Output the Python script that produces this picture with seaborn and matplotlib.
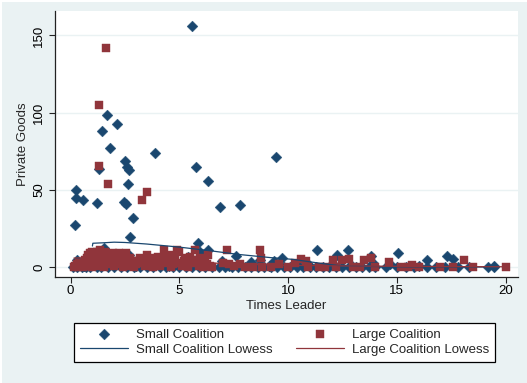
import matplotlib
matplotlib.use("Agg")
import matplotlib.pyplot as plt
import seaborn as sns
import pandas as pd
from matplotlib.patches import Rectangle

# ---------------- data ----------------
small_x = [5.59, 1.66, 2.12, 1.42, 1.82, 3.87, 9.43, 2.50, 1.30, 2.60, 2.70, 5.77, 6.32, 2.64,
           0.24, 0.24, 0.57, 1.19, 2.45, 2.55, 6.86, 7.79, 2.86, 0.21, 2.71, 1.52, 5.85, 6.30,
           1.5, 1.3, 2.2, 4.69, 5.4, 5.94, 6.97, 7.58, 8.3, 8.7, 9.36, 9.73, 11.35, 12.75, 12.25,
           13.8, 15.05, 16.37, 17.3, 17.6, 19.45, 0.3, 2.7, 3.6, 4.5, 6.0, 13.9, 14.7, 16.0, 10.4,
           5.2, 7.3, 3.0, 1.0, 0.6, 10.9, 12.9, 9.1,
           0.1, 0.3, 0.5, 0.7, 0.9, 1.2, 1.4, 1.7, 2.0, 2.3, 2.6, 2.9, 3.2, 3.5, 3.8, 4.1, 4.4,
           4.7, 5.0, 5.3, 5.6, 5.9, 6.2, 6.5, 6.8, 7.1, 7.4, 7.7, 8.0, 8.3, 8.6, 8.9, 9.2, 9.5,
           9.8, 10.1, 10.4, 10.7, 11.0, 11.3, 11.6, 11.9, 12.2, 12.5, 12.8, 13.1, 13.4, 13.7,
           14.0, 14.5, 15.0, 15.4, 15.8, 16.4, 16.8, 17.2, 17.8, 18.3, 19.2, 19.45]
small_y = [156.3, 98.3, 92.7, 88.1, 77.4, 73.9, 71.3, 68.5, 63.6, 65.0, 63.0, 64.7, 55.8, 53.9,
           49.8, 44.6, 43.3, 41.6, 42.5, 41.0, 39.2, 40.5, 31.7, 27.4, 19.4, 12.5, 16.0, 11.0,
           3, 6, 2, 4.3, 7, 9.9, 4.3, 7.3, 3.4, 4.5, 4.3, 5.8, 11, 11, 8.0,
           7.1, 9.5, 4.5, 7.1, 5.6, 1.1, 5, 8, 2, 1, 3, 3, 2, 1, 2,
           3, 1, 1, 2, 1, 2, 1.5, 1,
           0, 0, 0, 0, 0, 0, 0, 0, 0, 0, 0, 0, 0, 0, 0, 0, 0,
           0, 0, 0, 0, 0, 0, 0, 0, 0, 0, 0, 0, 0, 0, 0, 0, 0,
           0, 0, 0, 0, 0, 0, 0, 0, 0, 0, 0, 0, 0, 0,
           0, 0, 0, 0, 0, 0, 0, 0, 0, 0, 0, 0]

large_x = [1.64, 1.31, 1.30, 1.70, 3.51, 3.29,
           0.15, 0.2, 0.3, 0.35, 0.4, 0.5, 0.55, 0.6, 0.7, 0.75, 0.8, 0.85, 0.9, 0.95, 1.0, 1.0,
           1.05, 1.1, 1.1, 1.15, 1.2, 1.25, 1.3, 1.35, 1.4, 1.45, 1.5, 1.55, 1.6, 1.65, 1.7, 1.8,
           1.85, 1.9, 2.0, 2.05, 2.1, 2.2, 2.3, 2.35, 2.4, 2.5, 2.6, 2.7, 2.8, 2.9, 3.0, 3.2, 3.3,
           3.4, 3.5, 3.6, 3.7, 3.8, 3.9, 4.0, 4.1, 4.2, 4.3, 4.4, 4.5, 4.6, 4.7, 4.8, 4.9, 5.0,
           5.1, 5.2, 5.3, 5.4, 5.5, 5.6, 5.7, 5.8, 5.9, 6.0, 6.1, 6.2, 6.3, 6.4, 6.5, 7.0, 7.2,
           7.3, 7.5, 7.8, 8.0, 8.4, 8.7, 8.75, 8.8, 9.2, 9.6, 10.0, 10.3, 10.6, 10.8, 10.9, 11.4,
           11.7, 12.05, 12.2, 12.5, 12.8, 13.0, 13.3, 13.5, 13.8, 14.0, 14.65, 15.2, 15.5, 15.7,
           16.0, 17.0, 17.6, 18.1, 18.5, 20.0,
           0.65, 0.9, 1.0, 1.2, 1.4, 1.6, 1.75, 2.15, 2.45, 2.75, 3.1, 3.45, 3.75, 4.05, 4.35,
           4.65, 4.95, 5.25, 5.65, 5.95, 6.25, 1.05, 1.35, 1.95, 2.55]
large_y = [142, 105, 65.7, 53.7, 48.5, 43.5,
           0, 1, 2, 0, 3, 1, 0, 2, 4, 6, 8, 1, 9, 3, 10, 0,
           7, 5, 9, 2, 10, 6, 8, 1, 4, 9, 7, 0, 10, 3, 5, 8,
           2, 6, 1, 4, 7, 9, 2, 5, 0, 3, 6, 1, 4, 0, 2, 6, 3,
           1, 8, 5, 2, 0, 4, 7, 1, 5, 11, 3, 8, 0, 2, 6, 11, 10,
           1, 4, 2, 0, 7, 3, 11, 5, 1, 2, 0, 4, 8, 1, 0, 3, 11,
           2, 1, 2, 0, 0, 11, 6, 0, 0, 2, 0, 3, 5.6, 4, 0, 0,
           0, 4.5, 0, 5, 5.5, 0, 0, 4.5, 6, 0, 3.5, 0, 0, 1.5,
           0, 0, 0, 5, 0, 0.3,
           5, 6, 4, 7, 2, 5, 3, 4, 8, 6, 4, 3, 6, 2, 6,
           4, 3, 6, 5, 6, 2, 3, 11, 9, 9]

small_lowess_x = [1.0, 1.02, 1.5, 2.0, 2.5, 3.5, 5.0, 6.5, 7.7, 9.2, 10.2, 11.5, 12.3, 13.7,
                  15.0, 17.0, 19.45]
small_lowess_y = [13.8, 15.6, 15.9, 16.3, 16.1, 15.1, 13.1, 10.6, 8.4, 6.3, 5.2, 2.6, 1.2, 0.6,
                  0.4, 0.3, 0.2]
large_lowess_x = [0.15, 1.0, 2.0, 3.0, 4.0, 5.0, 6.0, 7.0, 8.0, 10.0, 12.0, 14.0, 16.0, 18.0, 20.0]
large_lowess_y = [6.0, 6.5, 6.5, 6.0, 5.0, 4.0, 3.2, 2.5, 2.0, 1.3, 1.0, 0.8, 0.6, 0.5, 0.4]

xticks = [0, 5, 10, 15, 20]
yticks = [0, 50, 100, 150]

# ---------------- style ----------------
navy = "#1A476F"
maroon = "#90353B"
bg = "#EAF2F3"

sns.set_style("ticks")
plt.rcParams["font.family"] = ["Liberation Sans", "DejaVu Sans"]
plt.rcParams["font.size"] = 9.5

fig = plt.figure(figsize=(5.27, 3.83), dpi=100, facecolor=bg)
ax = fig.add_axes([55 / 527, 1 - 276.5 / 383, (518 - 55) / 527, (276.5 - 11) / 383])
ax.set_facecolor("white")

small = pd.DataFrame({"x": small_x, "y": small_y})
large = pd.DataFrame({"x": large_x, "y": large_y})

sns.scatterplot(data=small, x="x", y="y", marker="D", color=navy, s=30, linewidth=0.3,
                edgecolor=navy, ax=ax, label="Small Coalition", zorder=3)
sns.scatterplot(data=large, x="x", y="y", marker="s", color=maroon, s=32, linewidth=0.3,
                edgecolor=maroon, ax=ax, label="Large Coalition", zorder=4)
sns.lineplot(x=small_lowess_x, y=small_lowess_y, estimator=None, sort=False, color=navy,
             lw=0.9, ax=ax, label="Small Coalition Lowess", zorder=5)
sns.lineplot(x=large_lowess_x, y=large_lowess_y, estimator=None, sort=False, color=maroon,
             lw=0.9, ax=ax, label="Large Coalition Lowess", zorder=5)

ax.set_xlim(-0.72, 20.57)
ax.set_ylim(-5.9, 165.8)
ax.set_xticks(xticks)
ax.set_yticks(yticks)
ax.yaxis.grid(True, color=bg, lw=1.0, zorder=0)
ax.xaxis.grid(False)
ax.set_axisbelow(True)

for s in ["top", "right"]:
    ax.spines[s].set_visible(False)
for s in ["left", "bottom"]:
    ax.spines[s].set_color("#222222")
    ax.spines[s].set_linewidth(0.9)
ax.tick_params(axis="both", direction="out", length=4, width=0.8, color="#222222",
               labelsize=9.5, labelcolor="black")
ax.tick_params(axis="y", pad=3)
ax.tick_params(axis="x", pad=2)
for lab in ax.get_yticklabels():
    lab.set_rotation(90)
    lab.set_va("center")
    lab.set_ha("right")

ax.set_xlabel("Times Leader", fontsize=9.5, labelpad=2)
ax.set_ylabel("Private Goods", fontsize=9.5, labelpad=3)

h, l = ax.get_legend_handles_labels()
order = ["Small Coalition", "Small Coalition Lowess", "Large Coalition", "Large Coalition Lowess"]
hh = [h[l.index(o)] for o in order]
leg = ax.legend(hh, order, loc="center", bbox_to_anchor=(0.54, 0.107),
                bbox_transform=fig.transFigure, ncol=2, frameon=True, fancybox=False,
                edgecolor="black", facecolor="white", framealpha=1, fontsize=9.5,
                handlelength=3.6, handletextpad=0.6, columnspacing=1.8, labelspacing=0.2,
                borderpad=0.45, markerscale=1.0)
leg.get_frame().set_linewidth(0.9)

# thin white edge at top and left of the figure
fig.patches.append(Rectangle((0, 1 - 2 / 383), 1, 2 / 383, transform=fig.transFigure,
                             facecolor="white", edgecolor="none", zorder=0))
fig.patches.append(Rectangle((0, 0), 2 / 527, 1, transform=fig.transFigure,
                             facecolor="white", edgecolor="none", zorder=0))

fig.savefig("out.png", dpi=100, facecolor=bg)
